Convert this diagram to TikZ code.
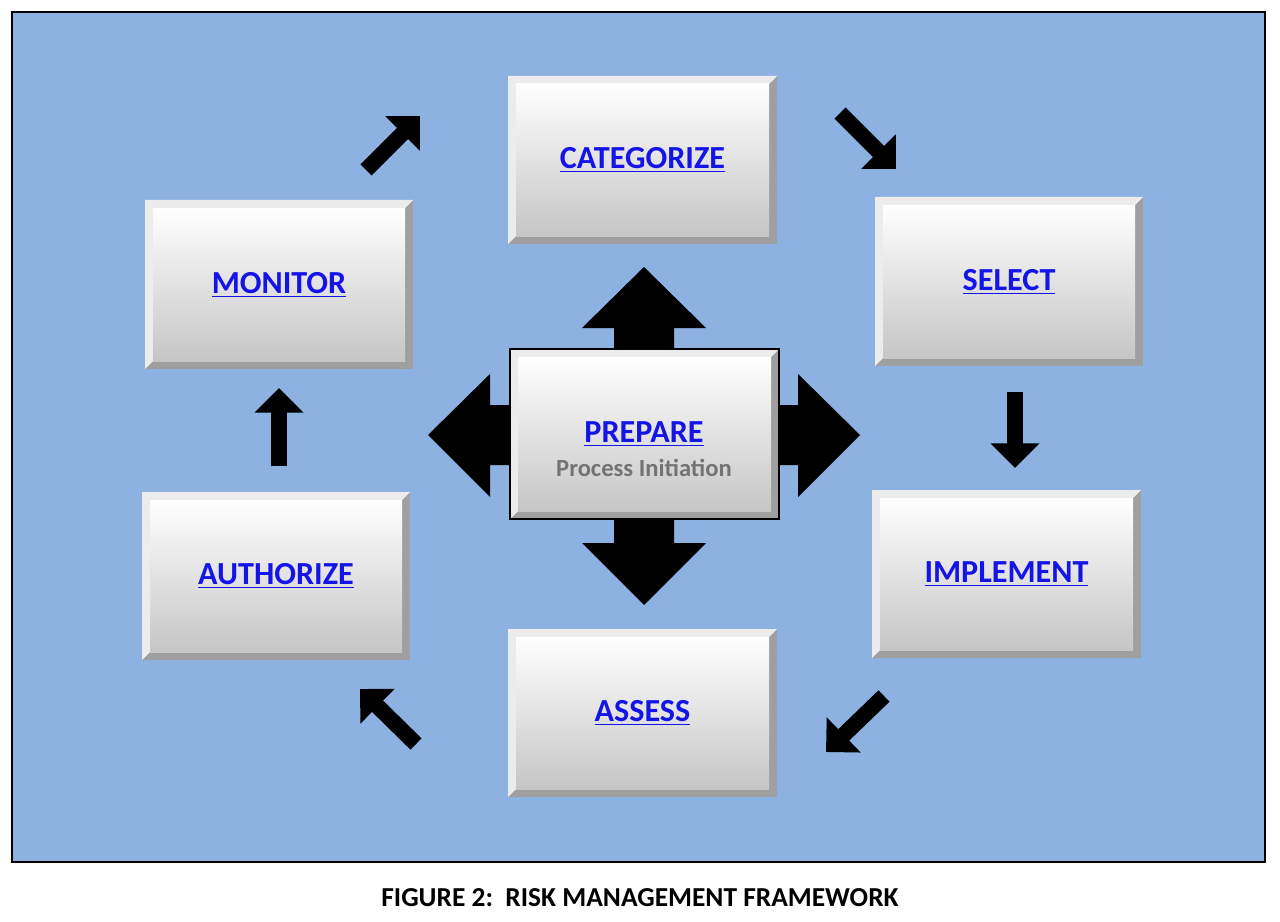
\documentclass[tikz,border=0pt]{standalone}
\usepackage{fontspec}
\setmainfont{Carlito}
\usetikzlibrary{arrows.meta}
\definecolor{bg}{RGB}{141,178,226}
\definecolor{lk}{RGB}{20,20,230}
\tikzset{
  flow/.style={line width=9pt,-{Triangle[length=14pt,width=27pt]}},
  lbl/.style={font=\bfseries\fontsize{18.3}{20}\selectfont,text=lk},
  big/.style={fill=black}
}
\newcommand{\bevbox}[5]{%
  \fill[gray!75] (#1,#2) rectangle (#3,#4);
  \fill[gray!15] (#1,#2) -- (#3,#2) -- (#3-8,#2+8) -- (#1+8,#4-8) -- (#1,#4) -- cycle;
  \shade[top color=white,bottom color=gray!45] (#1+8,#2+8) rectangle (#3-8,#4-8);
  \node[lbl] (#5) at ({(#1+#3)/2},{(#2+#4)/2}) {\underline{#5}};
}
\begin{document}
\begin{tikzpicture}[x=0.02cm,y=-0.02cm]
\useasboundingbox (0,0) rectangle (1280,922);
\draw[fill=bg,line width=1.2pt] (12,12) rectangle (1265,862);
\bevbox{508}{76}{777}{244}{CATEGORIZE}
\bevbox{875}{197}{1143}{366}{SELECT}
\bevbox{872}{490}{1141}{658}{IMPLEMENT}
\bevbox{508}{629}{777}{797}{ASSESS}
\bevbox{142}{492}{410}{660}{AUTHORIZE}
\bevbox{145}{200}{413}{369}{MONITOR}
% big arrows
\fill[big] (614,349) -- (614,328) -- (582,328) -- (644,267) -- (706,328) -- (674,328) -- (674,349) -- cycle;
\fill[big] (614,519) -- (614,543) -- (582,543) -- (644,605) -- (706,543) -- (674,543) -- (674,519) -- cycle;
\fill[big] (510,405) -- (490,405) -- (490,374) -- (428,435) -- (490,497) -- (490,465) -- (510,465) -- cycle;
\fill[big] (779,405) -- (798,405) -- (798,374) -- (860,435) -- (798,497) -- (798,465) -- (779,465) -- cycle;
\fill[gray!75] (510,349) rectangle (779,519);
\fill[gray!15] (510,349) -- (779,349) -- (771,357) -- (518,511) -- (510,519) -- cycle;
\shade[top color=white,bottom color=gray!45] (518,357) rectangle (771,511);
\draw[line width=1.5pt] (510,349) rectangle (779,519);
\node[lbl] (PREPARE) at (644,434) {\underline{PREPARE}};
\node[font=\bfseries\fontsize{14}{16}\selectfont,text=gray!90!black] (sub) at (644,468) {Process Initiation};
% flow arrows
\coordinate (a1) at (366,170); \coordinate (a2) at (420,116);
\coordinate (b1) at (840,113); \coordinate (b2) at (896,169);
\coordinate (c1) at (1015,392); \coordinate (c2) at (1015,468);
\coordinate (d1) at (884,696); \coordinate (d2) at (826,752);
\coordinate (e1) at (416,744); \coordinate (e2) at (360,689);
\coordinate (f1) at (279,466); \coordinate (f2) at (279,388);
\draw[flow] (a1) -- (a2);
\draw[flow] (b1) -- (b2);
\draw[flow] (c1) -- (c2);
\draw[flow] (d1) -- (d2);
\draw[flow] (e1) -- (e2);
\draw[flow] (f1) -- (f2);
\node[font=\bfseries\fontsize{15.6}{18}\selectfont] (cap) at (640,898) {FIGURE 2:\ \ RISK MANAGEMENT FRAMEWORK};
\end{tikzpicture}
\end{document}
